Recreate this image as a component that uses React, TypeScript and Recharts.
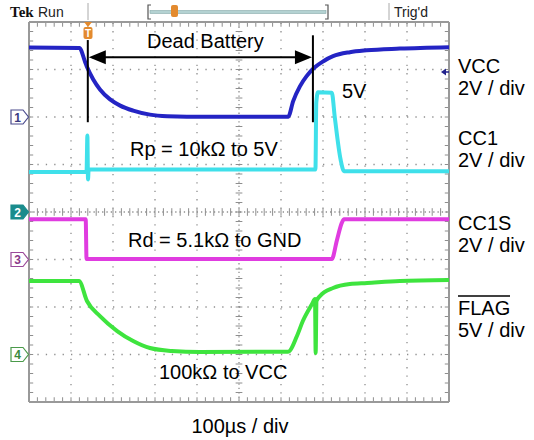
import { LineChart, Line, XAxis, YAxis, ReferenceLine, ReferenceDot } from "recharts";

// time in µs (100 µs / div), levels in volts
const vccTime = [0, 120, 133, 139, 153, 169, 193, 217, 248, 288, 329, 376, 617, 629, 645, 661, 679, 701, 724, 764, 804, 883, 1000];
const vccVolts = [2.93, 2.91, 2.35, 2.07, 1.58, 1.16, 0.74, 0.48, 0.27, 0.1, 0.03, 0.01, 0.01, 0.67, 1.29, 1.72, 2.07, 2.35, 2.56, 2.73, 2.81, 2.88, 2.94];

const cc1Time = [0, 137, 139, 140.5, 142, 682, 684, 688, 721, 728, 742, 750, 1000];
const cc1Volts = [1.68, 1.68, 3.22, 1.37, 1.79, 1.79, 4.6, 5.04, 5.02, 4.0, 2.2, 1.72, 1.72];

const cc1sTime = [0, 135, 137, 721, 733, 745, 750, 1000];
const cc1sVolts = [1.7, 1.7, 0.02, 0.02, 0.8, 1.55, 1.69, 1.7];

const flagTime = [0, 119, 138, 169, 210, 248, 288, 340, 407, 617, 638, 652, 674, 681, 682.5, 684.5, 693, 724, 764, 805, 883, 1000];
const flagVolts = [7.74, 7.74, 5.63, 4.05, 2.47, 1.42, 0.68, 0.37, 0.26, 0.3, 1.95, 3.53, 5.32, 5.84, 0.16, 5.63, 6.16, 7.0, 7.42, 7.53, 7.74, 7.84];

const channels = [
  { key: "VCC", time: vccTime, volts: vccVolts, ground: 6, perDiv: 2, color: "#2424c4" },
  { key: "CC1", time: cc1Time, volts: cc1Volts, ground: 4, perDiv: 2, color: "#3fe0ea" },
  { key: "CC1S", time: cc1sTime, volts: cc1sVolts, ground: 3, perDiv: 2, color: "#e03ce0" },
  { key: "FLAG", time: flagTime, volts: flagVolts, ground: 1, perDiv: 5, color: "#3ee43e" },
];

const rightLabels = [
  { name: "VCC", scale: "2V / div", y: 73 },
  { name: "CC1", scale: "2V / div", y: 145 },
  { name: "CC1S", scale: "2V / div", y: 230 },
  { name: "FLAG", scale: "5V / div", y: 315 },
];

const markers = [
  { label: "1", ground: 6, stroke: "#4a4a8c", fill: "#fff", text: "#3a3a80" },
  { label: "2", ground: 4, stroke: "#1a8c8c", fill: "#1a8c8c", text: "#fff" },
  { label: "3", ground: 3, stroke: "#9a4a9a", fill: "#fff", text: "#8a3a8a" },
  { label: "4", ground: 1, stroke: "#4a9a4a", fill: "#fff", text: "#3a8a3a" },
];

const majorT = [100, 200, 300, 400, 600, 700, 800, 900];
const majorV = [1, 2, 3, 5, 6, 7];
const minorT = Array.from({ length: 51 }, (_, i) => i * 20);
const minorV = Array.from({ length: 41 }, (_, i) => i * 0.2);

const W = 534;
const H = 440;
const M = { top: 22, left: 29, right: 85, bottom: 38 };
const divPx = (H - M.top - M.bottom) / 8;
const yOf = (div: number) => H - M.bottom - div * divPx;

const GRID = "#8e8e8e";
const FONT = "'Liberation Sans', Arial, sans-serif";

const arrowY = 7.26;
const deadStart = 140;
const deadEnd = 676;

export default function App() {
  const series = channels.map((c) => ({
    ...c,
    data: c.time.map((t, i) => ({ t, v: c.ground + c.volts[i] / c.perDiv })),
  }));

  return (
    <div style={{ position: "absolute", left: 0, top: 0, width: W, height: H, background: "#fff" }}>
      <LineChart width={W} height={H} margin={M}>
        <XAxis type="number" dataKey="t" domain={[0, 1000]} hide allowDuplicatedCategory={false} />
        <YAxis type="number" domain={[0, 8]} hide />
        {majorT.map((t) => (
          <ReferenceLine key={"gx" + t} x={t} stroke={GRID} strokeWidth={1.3} strokeDasharray="1.3 7.1" />
        ))}
        {majorV.map((v) => (
          <ReferenceLine key={"gy" + v} y={v} stroke={GRID} strokeWidth={1.3} strokeDasharray="1.3 7.1" />
        ))}
        <ReferenceLine x={500} stroke={GRID} strokeWidth={1.3} strokeDasharray="1.3 3" />
        <ReferenceLine y={4} stroke={GRID} strokeWidth={1.3} strokeDasharray="1.3 3" />
        {minorT.map((t) => (
          <ReferenceLine key={"tc" + t} segment={[{ x: t, y: 3.92 }, { x: t, y: 4.08 }]} stroke={GRID} strokeWidth={1} />
        ))}
        {minorV.map((v) => (
          <ReferenceLine key={"vc" + v} segment={[{ x: 492, y: v }, { x: 508, y: v }]} stroke={GRID} strokeWidth={1} />
        ))}
        {minorT.map((t) => (
          <ReferenceLine key={"tt" + t} segment={[{ x: t, y: 8 }, { x: t, y: 7.9 }]} stroke={GRID} strokeWidth={1} />
        ))}
        {minorT.map((t) => (
          <ReferenceLine key={"tb" + t} segment={[{ x: t, y: 0 }, { x: t, y: 0.1 }]} stroke={GRID} strokeWidth={1} />
        ))}
        {minorV.map((v) => (
          <ReferenceLine key={"vl" + v} segment={[{ x: 0, y: v }, { x: 10, y: v }]} stroke={GRID} strokeWidth={1} />
        ))}
        {minorV.map((v) => (
          <ReferenceLine key={"vr" + v} segment={[{ x: 990, y: v }, { x: 1000, y: v }]} stroke={GRID} strokeWidth={1} />
        ))}
        <ReferenceLine x={0} stroke="#999" strokeWidth={2} />
        <ReferenceLine x={1000} stroke="#999" strokeWidth={2} />
        <ReferenceLine y={0} stroke="#999" strokeWidth={2} />
        <ReferenceLine y={8} stroke="#999" strokeWidth={2} />

        {series.map((s) => (
          <Line
            key={s.key}
            data={s.data}
            dataKey="v"
            type="monotone"
            stroke={s.color}
            strokeWidth={4}
            dot={false}
            isAnimationActive={false}
          />
        ))}

        <ReferenceLine segment={[{ x: deadStart, y: 7.62 }, { x: deadStart, y: 5.89 }]} stroke="#000" strokeWidth={2} />
        <ReferenceLine segment={[{ x: deadEnd, y: 7.72 }, { x: deadEnd, y: 5.89 }]} stroke="#000" strokeWidth={2} />
        <ReferenceLine segment={[{ x: deadStart + 10, y: arrowY }, { x: deadEnd - 10, y: arrowY }]} stroke="#000" strokeWidth={2} />
        <ReferenceDot
          x={deadStart}
          y={arrowY}
          r={1}
          shape={(p: any) => (
            <polygon points={`${p.cx + 1},${p.cy} ${p.cx + 18},${p.cy - 7} ${p.cx + 18},${p.cy + 7}`} fill="#000" />
          )}
        />
        <ReferenceDot
          x={deadEnd}
          y={arrowY}
          r={1}
          shape={(p: any) => (
            <polygon points={`${p.cx - 1},${p.cy} ${p.cx - 18},${p.cy - 7} ${p.cx - 18},${p.cy + 7}`} fill="#000" />
          )}
        />
      </LineChart>

      <svg width={W} height={H} style={{ position: "absolute", left: 0, top: 0, pointerEvents: "none" }}>
        {/* scope header */}
        <text x={10} y={17} fontFamily="'Liberation Serif', serif" fontWeight="bold" fontSize={15} fill="#111">Tek</text>
        <text x={38} y={17} fontFamily={FONT} fontSize={14} fill="#222">Run</text>
        <line x1={88} y1={3} x2={88} y2={20} stroke="#aaa" strokeWidth={1} />
        <path d="M151,5 H148 V19 H151" stroke="#555" fill="none" strokeWidth={1.2} />
        <path d="M325,5 H328 V19 H325" stroke="#555" fill="none" strokeWidth={1.2} />
        <rect x={150} y={10.5} width={176} height={3} fill="#b4d2d2" stroke="#8aa" strokeWidth={0.6} />
        <rect x={171} y={5} width={7} height={12} rx={2} fill="#e38a2e" />
        <line x1={389} y1={3} x2={389} y2={20} stroke="#aaa" strokeWidth={1} />
        <text x={394} y={17} fontFamily={FONT} fontSize={14} fill="#222">Trig'd</text>

        {/* trigger position marker */}
        <polygon points="84,22 92,22 88,27" fill="#e38a2e" />
        <rect x={83.5} y={27} width={9} height={12} rx={2} fill="#e38a2e" />
        <text x={88} y={37} textAnchor="middle" fontFamily={FONT} fontSize={10} fontWeight="bold" fill="#fff">T</text>

        {/* trigger level arrow */}
        <polygon points="441,72 446,68.5 446,75.5" fill="#23238c" />
        <line x1={445} y1={72} x2={449} y2={72} stroke="#23238c" strokeWidth={1.5} />

        {/* channel ground markers */}
        {markers.map((m) => {
          const cy = yOf(m.ground);
          return (
            <g key={m.label}>
              <path
                d={`M11,${cy - 7} H23 L28.5,${cy} L23,${cy + 7} H11 Z`}
                fill={m.fill}
                stroke={m.stroke}
                strokeWidth={1.2}
              />
              <text x={17.5} y={cy + 4.5} textAnchor="middle" fontFamily={FONT} fontSize={12} fontWeight="bold" fill={m.text}>
                {m.label}
              </text>
            </g>
          );
        })}

        {/* annotations */}
        <g fontFamily={FONT} fontSize={20} fill="#000">
          <text x={147} y={47.5}>Dead Battery</text>
          <text x={342} y={98}>5V</text>
          <text x={130} y={156}>Rp = 10kΩ to 5V</text>
          <text x={128} y={247}>Rd = 5.1kΩ to GND</text>
          <text x={159} y={379}>100kΩ to VCC</text>
          <text x={240} y={433} textAnchor="middle">100µs / div</text>
          {rightLabels.map((l) => (
            <g key={l.name}>
              <text x={458} y={l.y}>{l.name}</text>
              <text x={458} y={l.y + 22}>{l.scale}</text>
            </g>
          ))}
          <line x1={458} y1={296} x2={510} y2={296} stroke="#000" strokeWidth={1.3} />
        </g>
      </svg>
    </div>
  );
}
